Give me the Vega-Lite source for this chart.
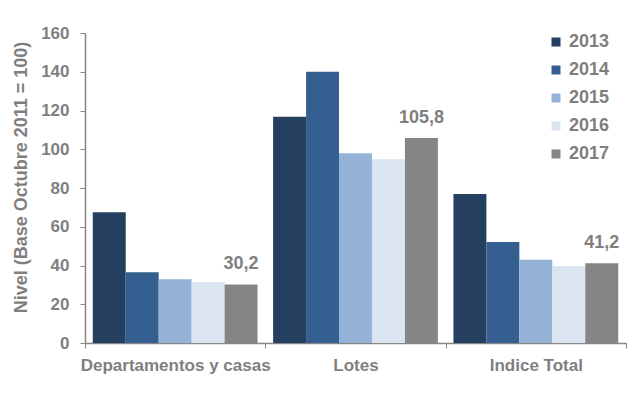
{
  "$schema": "https://vega.github.io/schema/vega-lite/v6.json",
  "width": 541,
  "height": 310,
  "autosize": {"type": "none"},
  "padding": {"left": 85, "top": 33, "right": 5, "bottom": 51},
  "background": "white",
  "config": {
    "view": {"stroke": null},
    "font": "Liberation Sans",
    "axis": {"labelFont": "Liberation Sans", "titleFont": "Liberation Sans", "labelColor": "#7f7f7f", "titleColor": "#7f7f7f", "domainColor": "#868686", "tickColor": "#868686", "labelFontWeight": "bold", "titleFontWeight": "bold", "grid": false}
  },
  "data": {
    "values": [
      {"categoria": "Departamentos y casas", "anio": "2013", "valor": 67.5},
      {"categoria": "Departamentos y casas", "anio": "2014", "valor": 36.5},
      {"categoria": "Departamentos y casas", "anio": "2015", "valor": 32.9},
      {"categoria": "Departamentos y casas", "anio": "2016", "valor": 31.5},
      {"categoria": "Departamentos y casas", "anio": "2017", "valor": 30.2, "etiqueta": "30,2"},
      {"categoria": "Lotes", "anio": "2013", "valor": 116.8},
      {"categoria": "Lotes", "anio": "2014", "valor": 140.0},
      {"categoria": "Lotes", "anio": "2015", "valor": 97.9},
      {"categoria": "Lotes", "anio": "2016", "valor": 94.8},
      {"categoria": "Lotes", "anio": "2017", "valor": 105.8, "etiqueta": "105,8"},
      {"categoria": "Indice Total", "anio": "2013", "valor": 76.9},
      {"categoria": "Indice Total", "anio": "2014", "valor": 52.1},
      {"categoria": "Indice Total", "anio": "2015", "valor": 43.0},
      {"categoria": "Indice Total", "anio": "2016", "valor": 39.7},
      {"categoria": "Indice Total", "anio": "2017", "valor": 41.2, "etiqueta": "41,2"}
    ]
  },
  "encoding": {
    "x": {
      "field": "categoria", "type": "nominal",
      "sort": ["Departamentos y casas", "Lotes", "Indice Total"],
      "scale": {"paddingInner": 0, "paddingOuter": 0},
      "axis": {"title": null, "labelAngle": 0, "labelFontSize": 17, "labelPadding": 9, "labelLimit": 0, "labelOverlap": false, "tickBand": "extent", "tickSize": 5, "domainWidth": 1.5}
    },
    "xOffset": {"field": "anio", "type": "nominal", "scale": {"paddingInner": 0, "paddingOuter": 0.236}},
    "y": {
      "field": "valor", "type": "quantitative",
      "scale": {"domain": [0, 160]},
      "axis": {"title": "Nivel (Base Octubre 2011 = 100)", "values": [0, 20, 40, 60, 80, 100, 120, 140, 160], "labelFontSize": 17, "titleFontSize": 18, "labelPadding": 11, "tickSize": 5, "titleX": -55, "titleY": 144, "titleBaseline": "bottom", "domainWidth": 1.5}
    }
  },
  "layer": [
    {
      "mark": {"type": "bar"},
      "encoding": {
        "color": {
          "field": "anio", "type": "nominal",
          "scale": {"domain": ["2013", "2014", "2015", "2016", "2017"], "range": ["#243f60", "#355f91", "#95b3d7", "#dbe5f1", "#858585"]},
          "legend": {"title": null, "orient": "none", "legendX": 462, "legendY": 0, "symbolType": "square", "symbolSize": 81, "symbolStrokeWidth": 0, "labelFont": "Liberation Sans", "labelFontSize": 18, "labelFontWeight": "bold", "labelColor": "#7f7f7f", "rowPadding": 10, "labelOffset": 4, "padding": 0}
        }
      }
    },
    {
      "transform": [{"filter": "datum.anio == '2017'"}],
      "mark": {"type": "text", "baseline": "alphabetic", "dy": -15, "font": "Liberation Sans", "fontSize": 18, "fontWeight": "bold", "color": "#7f7f7f"},
      "encoding": {"text": {"field": "etiqueta"}}
    }
  ]
}
